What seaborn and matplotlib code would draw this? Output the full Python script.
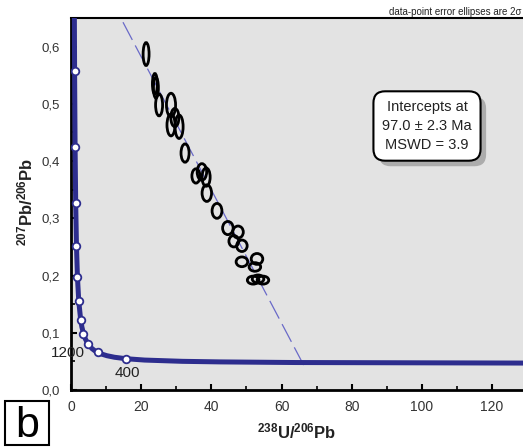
import matplotlib
matplotlib.use("Agg")
import matplotlib.pyplot as plt
import matplotlib.patheffects as pe
from matplotlib.patches import Ellipse, Rectangle
import numpy as np
import pandas as pd
import seaborn as sns

# ---------------- data ----------------
# Tera-Wasserburg concordia curve points (238U/206Pb, 207Pb/206Pb)
concordia_x = [0.8533, 0.9045, 1.0214, 1.1630, 1.3371, 1.5557, 1.8382, 2.2173,
               2.7487, 3.1044, 3.5499, 4.1227, 4.8876, 5.959, 6.674, 7.570,
               8.718, 10.252, 12.399, 15.620, 20.99, 31.74, 42.48, 63.97, 133.8]
concordia_y = [0.8453, 0.7347, 0.5571, 0.4251, 0.3264, 0.2524, 0.1968, 0.1548,
               0.1230, 0.1100, 0.0987, 0.0888, 0.0801, 0.0725, 0.0691, 0.0658,
               0.0628, 0.0599, 0.0572, 0.0547, 0.0523, 0.0501, 0.0491, 0.0480, 0.0470]
# age markers every 400 Ma (400 ... 4400 Ma)
marker_x = [15.620, 7.570, 4.8876, 3.5499, 2.7487, 2.2173, 1.8382, 1.5557, 1.3371, 1.1630, 1.0214]
marker_y = [0.0547, 0.0658, 0.0801, 0.0987, 0.1230, 0.1548, 0.1968, 0.2524, 0.3264, 0.4251, 0.5571]
age_labels = ["1200", "400"]
age_label_x = [-0.9, 16.0]
age_label_y = [0.065, 0.030]

# discordia (regression line)
disc_x = [0.0, 66.6]
disc_y = [0.815, 0.040]

# data-point error ellipses (centre x, centre y, full width, full height)
ell_x = [21.4, 23.9, 24.2, 25.1, 28.5, 29.6, 28.5, 30.8, 32.5, 35.6, 37.3, 38.5,
         38.7, 41.6, 44.7, 47.6, 46.4, 48.7, 48.7, 53.0, 52.4, 51.9, 53.3, 54.7]
ell_y = [0.587, 0.535, 0.528, 0.498, 0.498, 0.476, 0.463, 0.460, 0.414, 0.374, 0.381, 0.372,
         0.344, 0.313, 0.283, 0.276, 0.260, 0.252, 0.224, 0.229, 0.215, 0.192, 0.194, 0.192]
ell_w = [1.7, 1.4, 1.4, 2.0, 2.6, 2.3, 2.3, 2.3, 2.3, 2.3, 2.7, 2.3,
         2.7, 2.8, 3.0, 3.0, 2.8, 3.0, 3.3, 3.3, 3.3, 3.3, 3.3, 3.3]
ell_h = [0.040, 0.036, 0.036, 0.038, 0.041, 0.032, 0.038, 0.041, 0.032, 0.025, 0.029, 0.032,
         0.029, 0.026, 0.023, 0.021, 0.020, 0.020, 0.017, 0.019, 0.015, 0.014, 0.014, 0.014]

x_ticks = [0, 20, 40, 60, 80, 100, 120]
y_ticks = [0.0, 0.1, 0.2, 0.3, 0.4, 0.5, 0.6]
y_tick_labels = ["0,0", "0,1", "0,2", "0,3", "0,4", "0,5", "0,6"]

# ---------------- styling ----------------
plt.rcParams["font.family"] = ["Liberation Sans", "DejaVu Sans"]
plt.rcParams["mathtext.fontset"] = "custom"
plt.rcParams["mathtext.rm"] = "Liberation Sans"
plt.rcParams["mathtext.bf"] = "Liberation Sans:bold"

NAVY = "#2d2d8e"
W, H = 523, 448
fig = plt.figure(figsize=(5.23, 4.48), dpi=100)
ax = fig.add_axes([71 / W, 58 / H, 452 / W, 372 / H])
ax.set_facecolor("#e3e3e3")

# discordia line
disc_df = pd.DataFrame({"x": disc_x, "y": disc_y})
sns.lineplot(data=disc_df, x="x", y="y", ax=ax, color="#6a6ac8", linewidth=0.9,
             dashes=False, zorder=2)
ax.lines[-1].set_dashes([16, 5])

# concordia curve
conc_df = pd.DataFrame({"x": concordia_x, "y": concordia_y})
sns.lineplot(data=conc_df, x="x", y="y", ax=ax, sort=False, estimator=None,
             color=NAVY, linewidth=3.6, zorder=3, solid_capstyle="round")
mk_df = pd.DataFrame({"x": marker_x, "y": marker_y})
sns.scatterplot(data=mk_df, x="x", y="y", ax=ax, s=30, color="white",
                edgecolor=NAVY, linewidth=1.3, zorder=4)

for t, lx, ly in zip(age_labels, age_label_x, age_label_y):
    ax.text(lx, ly, t, fontsize=11, ha="center", va="center", color="#222222",
            zorder=5, clip_on=False)

# error ellipses
for cx, cy, w, h in zip(ell_x, ell_y, ell_w, ell_h):
    ax.add_patch(Ellipse((cx, cy), w, h, facecolor="none", edgecolor="black",
                         linewidth=2.0, zorder=5))

ax.set_xlim(0, 128.8)
ax.set_ylim(0, 0.65)
ax.set_xticks(x_ticks)
ax.set_xticks(np.arange(10, 130, 20), minor=True)
ax.set_yticks(y_ticks)
ax.set_yticklabels(y_tick_labels)
ax.set_yticks(np.arange(0.05, 0.65, 0.1), minor=True)
ax.tick_params(axis="both", which="both", direction="in", color="black",
               labelcolor="#333333")
ax.tick_params(axis="x", which="major", length=4, width=1.5, labelsize=10, pad=7)
ax.tick_params(axis="x", which="minor", length=3, width=1.2)
ax.tick_params(axis="y", which="major", length=4, width=1.5, labelsize=9.5, pad=8)
ax.tick_params(axis="y", which="minor", length=3, width=1.2)
ax.set_xlabel("")
ax.set_ylabel("")

for side in ["left", "bottom"]:
    ax.spines[side].set_linewidth(2.0)
    ax.spines[side].set_color("black")
ax.spines["top"].set_linewidth(1.5)
ax.spines["top"].set_color("black")
ax.spines["right"].set_visible(False)

# axis labels
fig.text(297 / W, 1 - 431 / H, r"$\mathbf{^{238}U/^{206}Pb}$", ha="center",
         va="center", fontsize=12, color="#222222")
fig.text(25 / W, 1 - 202 / H, r"$\mathbf{^{207}Pb/^{206}Pb}$", ha="center",
         va="center", fontsize=12, rotation=90, color="#222222")

# header note
fig.text(0.997, 1 - 17 / H, "data-point error ellipses are 2σ", ha="right",
         va="bottom", fontsize=7, color="#222222")

# result box
tb = ax.text(427 / W, 1 - 126 / H, "Intercepts at\n97.0 ± 2.3 Ma\nMSWD = 3.9",
             transform=fig.transFigure, ha="center", va="center", fontsize=10.5,
             linespacing=1.45, color="#222222", zorder=10,
             bbox=dict(boxstyle="round,pad=0.6,rounding_size=0.8",
                       facecolor="white", edgecolor="black", linewidth=1.5))
tb.get_bbox_patch().set_path_effects([
    pe.SimplePatchShadow(offset=(4, -4), shadow_rgbFace="#888888", alpha=0.6),
    pe.Normal()])

# panel label
fig.add_artist(Rectangle((5 / W, 1 - 445 / H), 44 / W, 44 / H,
                         transform=fig.transFigure, facecolor="white",
                         edgecolor="black", linewidth=1.5))
fig.text(27 / W, 1 - 437 / H, "b", ha="center", va="baseline", fontsize=31,
         color="black")

fig.savefig("out.png", dpi=100)
